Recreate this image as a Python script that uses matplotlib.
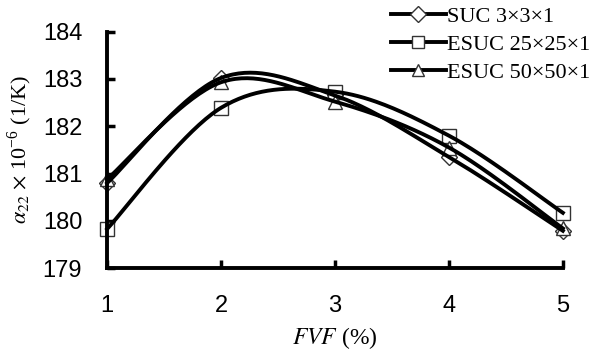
# thermal expansion coefficient a22 vs fibre volume fraction
import numpy as np
import matplotlib as mpl
import matplotlib.pyplot as plt
from matplotlib.lines import Line2D

# data
fvf = [1, 2, 3, 4, 5]
suc_3 = [180.80, 183.02, 182.65, 181.35, 179.79]
esuc_25 = [179.83, 182.39, 182.73, 181.80, 180.17]
esuc_50 = [180.88, 182.93, 182.52, 181.55, 179.84]
labels = ['SUC 3\u00d73\u00d71', 'ESUC 25\u00d725\u00d71', 'ESUC 50\u00d750\u00d71']
markers = ['D', 's', '^']
msizes = [8.5, 10, 10]

mpl.rcParams['mathtext.fontset'] = 'stix'
mpl.rcParams['font.family'] = ['Liberation Sans', 'DejaVu Sans']


def smooth(x, y, n=40):
    # spreadsheet style smoothed line: cubic bezier, catmull-rom control points
    x = np.asarray(x, float)
    y = np.asarray(y, float)
    px = np.concatenate(([x[0]], x, [x[-1]]))
    py = np.concatenate(([y[0]], y, [y[-1]]))
    t = np.linspace(0, 1, n)
    xs, ys = [], []
    for i in range(1, len(x)):
        p0 = np.array([px[i], py[i]])
        p3 = np.array([px[i + 1], py[i + 1]])
        c1 = p0 + (p3 - np.array([px[i - 1], py[i - 1]])) / 6
        c2 = p3 - (np.array([px[i + 2], py[i + 2]]) - p0) / 6
        b = ((1 - t) ** 3)[:, None] * p0 + (3 * (1 - t) ** 2 * t)[:, None] * c1 \
            + (3 * (1 - t) * t ** 2)[:, None] * c2 + (t ** 3)[:, None] * p3
        xs.append(b[:, 0])
        ys.append(b[:, 1])
    return np.concatenate(xs), np.concatenate(ys)


fig = plt.figure(figsize=(6.02, 3.51), dpi=100)
ax = fig.add_axes([0.178, 0.236, 0.757, 0.674])

handles = []
for y, lab, m, ms in zip([suc_3, esuc_25, esuc_50], labels, markers, msizes):
    ax.plot(fvf, y, ls='none', marker=m, ms=ms, mfc='white', mec='#333333',
            mew=1.0, zorder=2, clip_on=False)
    sx, sy = smooth(fvf, y)
    ax.plot(sx, sy, color='black', lw=2.8, zorder=3, clip_on=False)
    handles.append(Line2D([], [], color='black', lw=2.8, marker=m, ms=ms * 0.9,
                          mfc='white', mec='#333333', mew=1.0))

ax.set_xlim(1, 5)
ax.set_ylim(179, 184)
ax.set_xticks(fvf)
ax.set_yticks([179, 180, 181, 182, 183, 184])

for s in ['top', 'right']:
    ax.spines[s].set_visible(False)
for s in ['left', 'bottom']:
    ax.spines[s].set_linewidth(2.8)
ax.tick_params(direction='in', length=6, width=2.5, labelsize=17, pad=19)
ax.tick_params(axis='y', pad=18)

ax.set_xlabel(r'$FVF$ (%)', fontsize=17, family='Liberation Serif', labelpad=6)
ax.set_ylabel(r'$\alpha_{22}$ $\times$ 10$^{\mathregular{-6}}$ (1/K)', fontsize=16,
              family='Liberation Serif')
ax.yaxis.set_label_coords(-0.16, 0.5)

fig.legend(handles, labels, loc='upper left', bbox_to_anchor=(0.616, 1.04),
           frameon=False, handlelength=2.47, handletextpad=0.05, labelspacing=0.34,
           prop={'family': 'Liberation Serif', 'size': 16})

fig.savefig('out.png', dpi=100)
